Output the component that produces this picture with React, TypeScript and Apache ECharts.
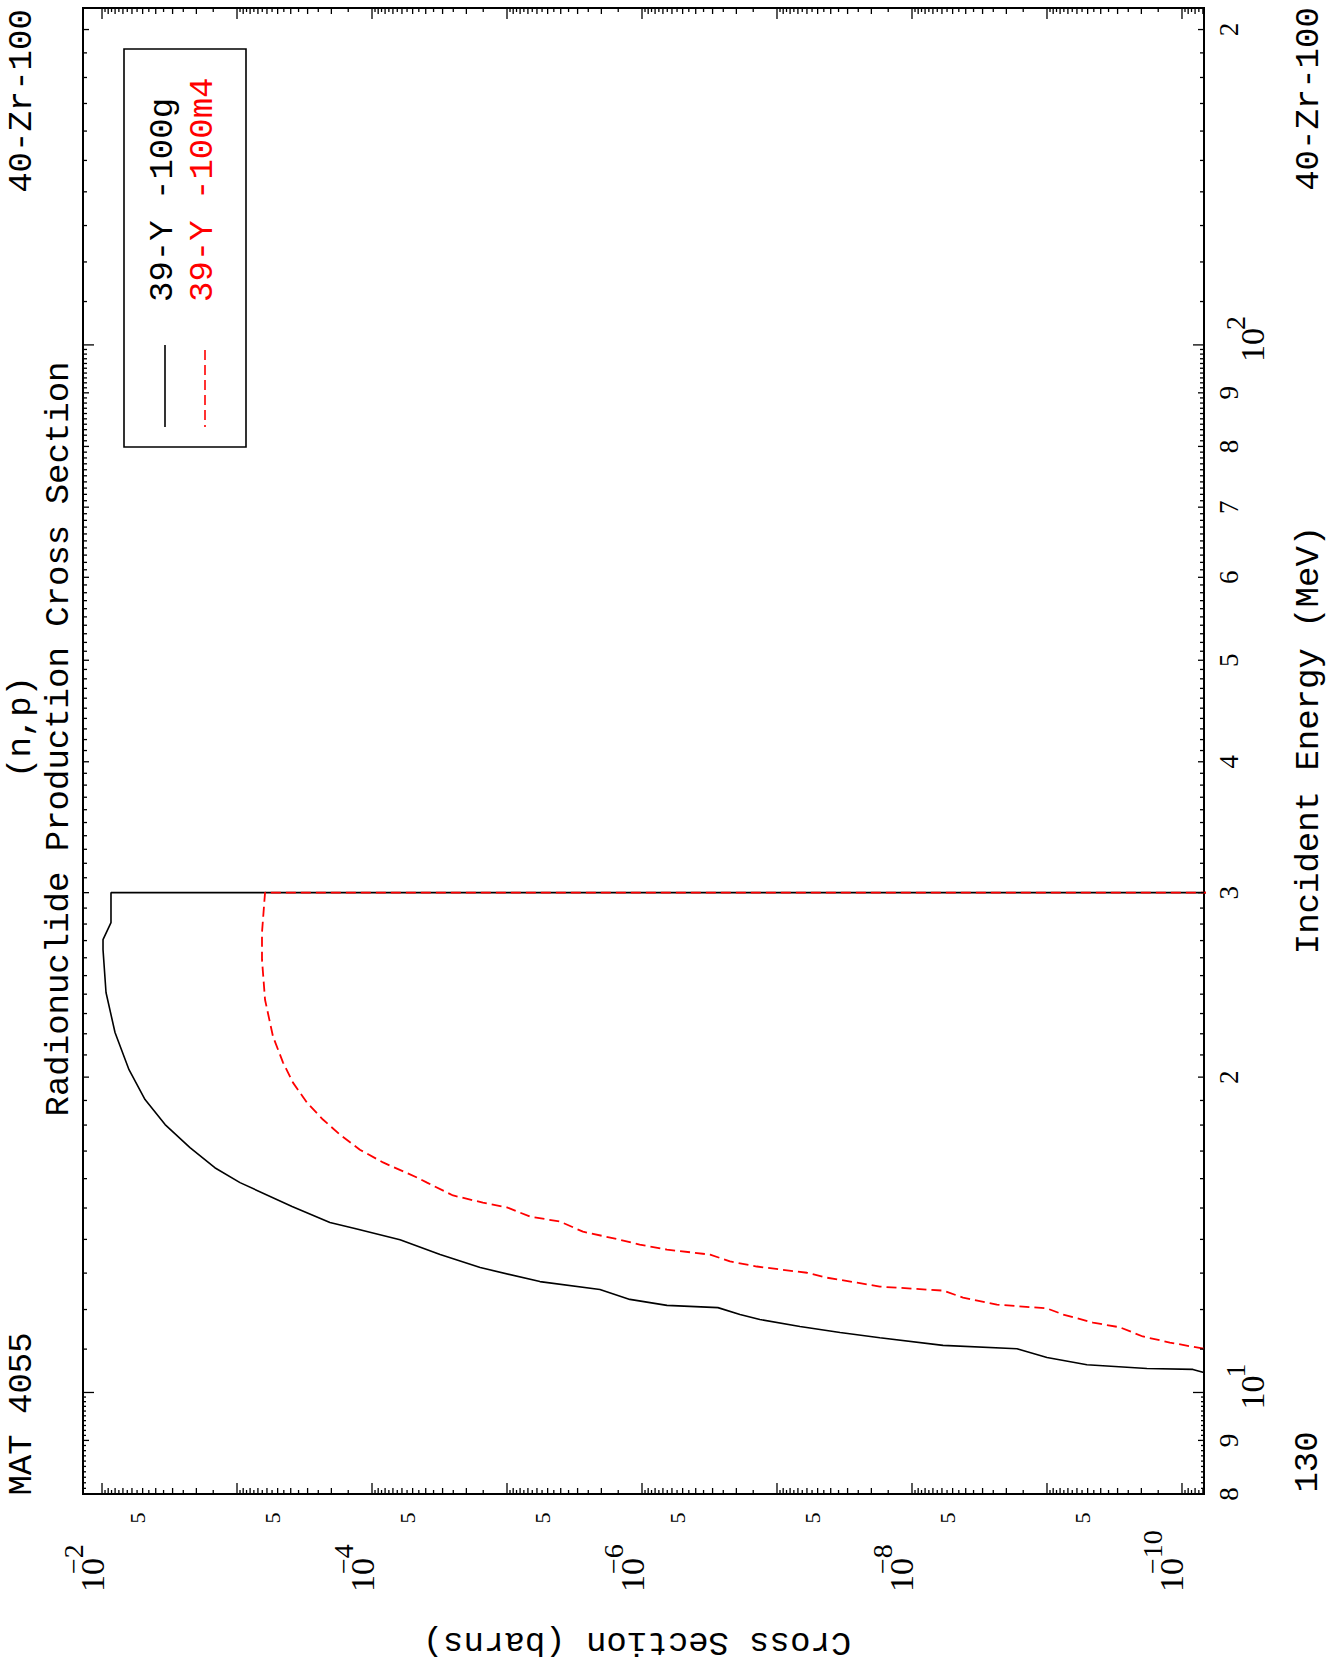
import React, { useEffect, useRef } from "react";
import * as echarts from "echarts";

// ---------- axis ranges ----------
const SIGMA_MIN = 6.87e-11; // barns (right edge)
const SIGMA_MAX = 1.383e-2; // barns (left edge)
const E_MIN = 8; // MeV (bottom)
const E_MAX = 209.7; // MeV (top)

// ---------- data: 39-Y-100g ----------
const y100gEnergy = [
  10.45, 10.52, 10.54, 10.63, 10.8, 11.01, 11.09, 11.28, 11.41, 11.56, 11.74, 11.87,
  12.05, 12.11, 12.27, 12.54, 12.76, 13.16, 13.54, 13.99, 14.34, 14.53, 15.05, 15.86,
  16.39, 17.13, 18.02, 19.04, 20.33, 22.06, 24.09, 26.47, 27.06, 28.09, 30.0, 30.0,
];
const y100gSigma = [
  6.9e-11, 8.3e-11, 1.82e-10, 5.06e-10, 1.0e-9, 1.67e-9, 5.89e-9, 1.73e-8, 3.41e-8,
  6.76e-8, 1.34e-7, 1.88e-7, 2.74e-7, 6.53e-7, 1.23e-6, 2.05e-6, 5.7e-6, 1.58e-5,
  3.13e-5, 6.2e-5, 1.34e-4, 2.05e-4, 3.91e-4, 9.5e-4, 1.46e-3, 2.23e-3, 3.41e-3,
  4.8e-3, 6.31e-3, 8.01e-3, 9.34e-3, 9.83e-3, 9.83e-3, 8.58e-3, 8.58e-3, 1e-12,
];

// ---------- data: 39-Y-100m4 ----------
const y100m4Energy = [
  11.01, 11.16, 11.31, 11.54, 11.66, 11.87, 12.03, 12.13, 12.32, 12.51, 12.62, 12.73,
  12.87, 13.01, 13.19, 13.34, 13.54, 13.69, 13.84, 13.99, 14.24, 14.56, 14.72, 15.02,
  15.18, 15.42, 15.86, 16.04, 16.58, 17.05, 17.63, 18.22, 18.91, 19.76, 20.65, 21.86,
  23.71, 25.89, 27.48, 30.0, 30.0,
];
const y100m4Sigma = [
  6.9e-11, 1.23e-10, 1.95e-10, 2.88e-10, 4.56e-10, 7.6e-10, 1.0e-9, 2.35e-9, 4.19e-9,
  5.89e-9, 1.73e-8, 2.55e-8, 4.27e-8, 6.0e-8, 1.41e-7, 2.23e-7, 3.13e-7, 6.53e-7,
  1.04e-6, 1.46e-6, 2.74e-6, 4.05e-6, 6.76e-6, 1.0e-5, 1.51e-5, 2.51e-5, 3.91e-5,
  4.64e-5, 8.29e-5, 1.23e-4, 1.73e-4, 2.31e-4, 3.03e-4, 3.85e-4, 4.56e-4, 5.41e-4,
  6.2e-4, 6.53e-4, 6.53e-4, 6.2e-4, 1e-12,
];

// ---------- tick labels ----------
const sigmaFiveExponents = [-3, -4, -5, -6, -7, -8, -9, -10];
const sigmaPowerExponents = [-2, -4, -6, -8, -10];
const energyDigitLabels = [
  { v: 8, t: "8" }, { v: 9, t: "9" },
  { v: 20, t: "2" }, { v: 30, t: "3" }, { v: 40, t: "4" }, { v: 50, t: "5" },
  { v: 60, t: "6" }, { v: 70, t: "7" }, { v: 80, t: "8" }, { v: 90, t: "9" },
  { v: 200, t: "2" },
];
const energyPowerLabels = [{ v: 10, e: "1" }, { v: 100, e: "2" }];

const legendNames = ["39-Y -100g", "39-Y -100m4"];

const MONO = "'Liberation Mono', 'DejaVu Sans Mono', monospace";
const SERIF = "'Liberation Serif', 'DejaVu Serif', serif";
const RED = "#ff0000";
const TS = 34; // title font size

function buildSigmaTicks() {
  const out: number[][] = [];
  for (let n = -11; n <= -2; n++) {
    const d = Math.pow(10, n);
    if (d >= SIGMA_MIN && d <= SIGMA_MAX) out.push([d, 20, 11]);
    for (let k = 3; k <= 19; k++) {
      const v = (k / 2) * d;
      if (v >= SIGMA_MIN && v <= SIGMA_MAX) out.push([v, 20, k % 2 === 0 ? 6 : 4]);
    }
  }
  return out;
}

function buildEnergyTicks() {
  const out: number[][] = [];
  for (let k = 80; k <= 99; k++) out.push([1e-5, k / 10, k % 10 === 0 ? 6 : 3]);
  for (let k = 10; k <= 99; k++) out.push([1e-5, k, k === 10 ? 11 : k % 10 === 0 ? 6 : 4]);
  for (let k = 10; k <= 20; k++) {
    const v = k * 10;
    if (v <= E_MAX) out.push([1e-5, v, k === 10 ? 11 : k % 10 === 0 ? 6 : 4]);
  }
  return out;
}

function rtext(x: number, y: number, rot: number, text: string, size: number, family: string, align: string, fill = "#000") {
  return {
    type: "text",
    x,
    y,
    rotation: rot,
    silent: true,
    style: {
      text,
      fill,
      fontSize: size,
      fontFamily: family,
      align,
      verticalAlign: "middle",
      textAlign: align,
      textVerticalAlign: "middle",
    },
  };
}

const R90 = Math.PI / 2;

export default function App() {
  const ref = useRef<HTMLDivElement>(null);

  useEffect(() => {
    if (!ref.current) return;
    const chart = echarts.init(ref.current, null, { renderer: "svg" });

    const sigmaTicks = buildSigmaTicks();
    const energyTicks = buildEnergyTicks();

    const fiveData = sigmaFiveExponents.map((n) => [5 * Math.pow(10, n), 20]);
    const powData = sigmaPowerExponents.map((n) => [Math.pow(10, n), 20]);
    const eDigitData = energyDigitLabels.map((l) => [1e-5, l.v]);
    const ePowData = energyPowerLabels.map((l) => [1e-5, l.v]);

    const tickStyle = { stroke: "#000", lineWidth: 1.3 };

    const option: any = {
      animation: false,
      backgroundColor: "#ffffff",
      grid: {
        left: 83,
        top: 8,
        width: 1121,
        height: 1486,
        show: true,
        borderColor: "#000",
        borderWidth: 2,
        backgroundColor: "transparent",
      },
      xAxis: {
        type: "log",
        logBase: 10,
        min: SIGMA_MIN,
        max: SIGMA_MAX,
        inverse: true,
        axisLine: { show: false },
        axisTick: { show: false },
        axisLabel: { show: false },
        splitLine: { show: false },
      },
      yAxis: {
        type: "log",
        logBase: 10,
        min: E_MIN,
        max: E_MAX,
        axisLine: { show: false },
        axisTick: { show: false },
        axisLabel: { show: false },
        splitLine: { show: false },
      },
      series: [
        {
          name: legendNames[0],
          type: "line",
          data: y100gSigma.map((s, i) => [s, y100gEnergy[i]]),
          symbol: "none",
          showSymbol: false,
          clip: true,
          lineStyle: { color: "#000", width: 1.6 },
          z: 3,
        },
        {
          name: legendNames[1],
          type: "line",
          data: y100m4Sigma.map((s, i) => [s, y100m4Energy[i]]),
          symbol: "none",
          showSymbol: false,
          clip: true,
          lineStyle: { color: RED, width: 1.8, type: [10, 5] },
          z: 4,
        },
        {
          type: "custom",
          silent: true,
          data: sigmaTicks,
          renderItem: (params: any, api: any) => {
            const p = api.coord([api.value(0), api.value(1)]);
            const cs = params.coordSys;
            const len = api.value(2);
            const b = cs.y + cs.height;
            return {
              type: "group",
              children: [
                { type: "line", shape: { x1: p[0], y1: b, x2: p[0], y2: b - len }, style: tickStyle },
                { type: "line", shape: { x1: p[0], y1: cs.y, x2: p[0], y2: cs.y + len }, style: tickStyle },
              ],
            };
          },
          z: 5,
        },
        {
          type: "custom",
          silent: true,
          data: energyTicks,
          renderItem: (params: any, api: any) => {
            const p = api.coord([api.value(0), api.value(1)]);
            const cs = params.coordSys;
            const len = api.value(2);
            const r = cs.x + cs.width;
            return {
              type: "group",
              children: [
                { type: "line", shape: { x1: r, y1: p[1], x2: r - len, y2: p[1] }, style: tickStyle },
                { type: "line", shape: { x1: cs.x, y1: p[1], x2: cs.x + len, y2: p[1] }, style: tickStyle },
              ],
            };
          },
          z: 5,
        },
        {
          type: "custom",
          silent: true,
          data: fiveData,
          renderItem: (params: any, api: any) => {
            const p = api.coord([api.value(0), api.value(1)]);
            const cs = params.coordSys;
            const b = cs.y + cs.height;
            return rtext(p[0] - 5, b + 24, R90, "5", 22, SERIF, "center");
          },
        },
        {
          type: "custom",
          silent: true,
          data: powData,
          renderItem: (params: any, api: any) => {
            const p = api.coord([api.value(0), api.value(1)]);
            const cs = params.coordSys;
            const b = cs.y + cs.height;
            const n = sigmaPowerExponents[params.dataIndex];
            return {
              type: "group",
              children: [
                rtext(p[0] - 10, b + 81, R90, "10", 34, SERIF, "center"),
                rtext(p[0] - 29, b + 80, R90, "\u2212" + String(-n), 28, SERIF, "left"),
              ],
            };
          },
        },
        {
          type: "custom",
          silent: true,
          data: eDigitData,
          renderItem: (params: any, api: any) => {
            const p = api.coord([api.value(0), api.value(1)]);
            const cs = params.coordSys;
            const r = cs.x + cs.width;
            return rtext(r + 25, p[1], R90, energyDigitLabels[params.dataIndex].t, 27, SERIF, "center");
          },
        },
        {
          type: "custom",
          silent: true,
          data: ePowData,
          renderItem: (params: any, api: any) => {
            const p = api.coord([api.value(0), api.value(1)]);
            const cs = params.coordSys;
            const r = cs.x + cs.width;
            return {
              type: "group",
              children: [
                rtext(r + 48, p[1], R90, "10", 34, SERIF, "center"),
                rtext(r + 31, p[1] - 15, R90, energyPowerLabels[params.dataIndex].e, 28, SERIF, "left"),
              ],
            };
          },
        },
      ],
      graphic: [
        rtext(22, 101, R90, "40-Zr-100", TS, MONO, "center"),
        rtext(21, 727, R90, "(n,p)", TS, MONO, "center"),
        rtext(59, 739, R90, "Radionuclide Production Cross Section", TS, MONO, "center"),
        rtext(22, 1414, R90, "MAT 4055", TS, MONO, "center"),
        rtext(1309, 99, R90, "40-Zr-100", TS, MONO, "center"),
        rtext(1309, 740, R90, "Incident Energy (MeV)", TS, MONO, "center"),
        rtext(1308, 1462, R90, "130", TS, MONO, "center"),
        rtext(637, 1642, Math.PI, "Cross Section (barns)", TS, MONO, "center"),
        {
          type: "rect",
          silent: true,
          shape: { x: 124, y: 49, width: 122, height: 398 },
          style: { fill: "none", stroke: "#000", lineWidth: 1.6 },
        },
        {
          type: "line",
          silent: true,
          shape: { x1: 165, y1: 345, x2: 165, y2: 427 },
          style: { stroke: "#000", lineWidth: 1.6 },
        },
        {
          type: "line",
          silent: true,
          shape: { x1: 205, y1: 350, x2: 205, y2: 427 },
          style: { stroke: RED, lineWidth: 1.6, lineDash: [10, 5] },
        },
        rtext(163, 302, R90, legendNames[0], TS, MONO, "left"),
        rtext(203, 302, R90, legendNames[1], TS, MONO, "left", RED),
      ],
    };

    chart.setOption(option);
    return () => chart.dispose();
  }, []);

  return (
    <div
      ref={ref}
      style={{ position: "absolute", left: 0, top: 0, width: 1334, height: 1673, background: "#fff" }}
    />
  );
}
